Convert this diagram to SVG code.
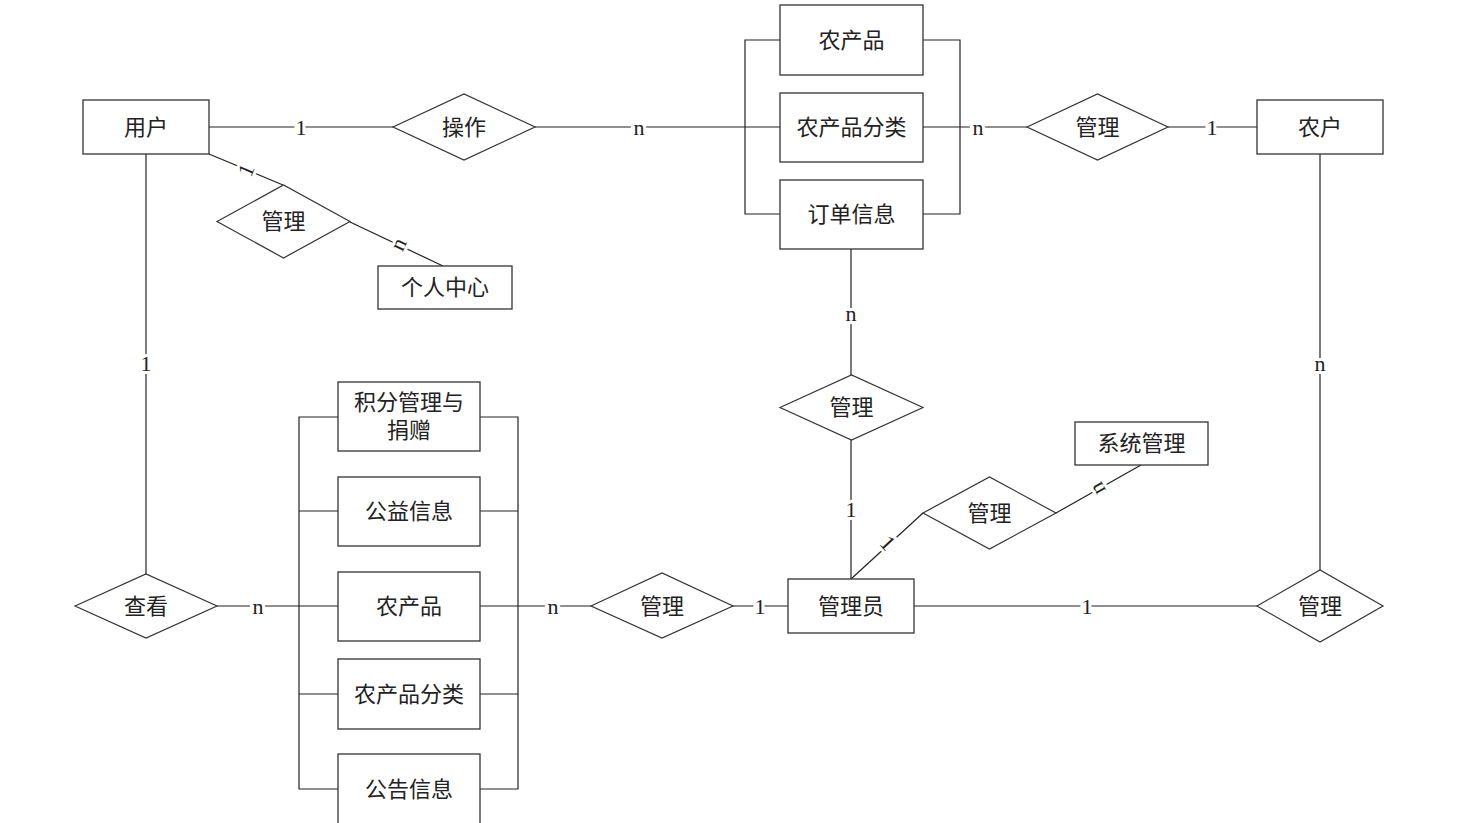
<svg xmlns="http://www.w3.org/2000/svg" width="1457" height="823" viewBox="0 0 1457 823">
<style>
.box{fill:#fff;stroke:#333;stroke-width:1.3}
.dia{fill:#fff;stroke:#333;stroke-width:1.2}
.ln{fill:none;stroke:#222;stroke-width:1.2}
.t{font-family:"Liberation Serif","Noto Sans CJK SC",serif;font-size:22px;fill:#222;text-anchor:middle;dominant-baseline:central}
.lb{font-family:"Liberation Serif",serif;font-size:22px;fill:#222;text-anchor:middle;dominant-baseline:central;stroke:#fff;stroke-width:6;paint-order:stroke}
</style>
<rect width="1457" height="823" fill="#fff"/>
<g id="connectors">
<line class="ln" x1="209" y1="127" x2="393" y2="127"/>
<line class="ln" x1="535" y1="127" x2="780" y2="127"/>
<polyline class="ln" points="780,40 745,40 745,214 780,214"/>
<polyline class="ln" points="923,40 960,40 960,214 923,214"/>
<line class="ln" x1="923" y1="127" x2="1027" y2="127"/>
<line class="ln" x1="1168" y1="127" x2="1257" y2="127"/>
<line class="ln" x1="209" y1="154" x2="283" y2="185"/>
<line class="ln" x1="350" y1="222" x2="443" y2="266"/>
<line class="ln" x1="146" y1="154" x2="146" y2="574"/>
<line class="ln" x1="1320" y1="154" x2="1320" y2="570"/>
<line class="ln" x1="851" y1="249" x2="851" y2="375"/>
<line class="ln" x1="851" y1="440" x2="851" y2="579"/>
<line class="ln" x1="851" y1="579" x2="923" y2="513"/>
<line class="ln" x1="1056" y1="513" x2="1141" y2="465"/>
<line class="ln" x1="914" y1="606" x2="1257" y2="606"/>
<line class="ln" x1="733" y1="606" x2="788" y2="606"/>
<line class="ln" x1="217" y1="606" x2="338" y2="606"/>
<line class="ln" x1="480" y1="606" x2="591" y2="606"/>
<polyline class="ln" points="338,417 299,417 299,789 338,789"/>
<polyline class="ln" points="480,417 518,417 518,789 480,789"/>
<line class="ln" x1="299" y1="511" x2="338" y2="511"/>
<line class="ln" x1="299" y1="694" x2="338" y2="694"/>
<line class="ln" x1="480" y1="511" x2="518" y2="511"/>
<line class="ln" x1="480" y1="694" x2="518" y2="694"/>
<text class="lb" x="301" y="127">1</text>
<text class="lb" x="639" y="127">n</text>
<text class="lb" x="978" y="127">n</text>
<text class="lb" x="1212" y="127">1</text>
<text class="lb" transform="translate(246,170) rotate(-67)">1</text>
<text class="lb" transform="translate(398,244) rotate(-65)">n</text>
<text class="lb" x="146" y="363">1</text>
<text class="lb" x="1320" y="363">n</text>
<text class="lb" x="851" y="313">n</text>
<text class="lb" x="851" y="509">1</text>
<text class="lb" transform="translate(888,543) rotate(47.5)">1</text>
<text class="lb" transform="translate(1097,489) rotate(-119)">n</text>
<text class="lb" x="1087" y="606">1</text>
<text class="lb" x="760" y="606">1</text>
<text class="lb" x="258" y="606">n</text>
<text class="lb" x="553" y="606">n</text>
</g>
<g id="user"><rect class="box" x="83" y="100" width="126" height="54"/><text class="t" x="146" y="127">用户</text></g>
<g id="operate"><polygon class="dia" points="393,127 464,94 535,127 464,160"/><text class="t" x="464" y="127">操作</text></g>
<g id="manage-user"><polygon class="dia" points="217,221.5 283.5,185 350,221.5 283.5,258"/><text class="t" x="283.5" y="221.5">管理</text></g>
<g id="personal-center"><rect class="box" x="378" y="266" width="134" height="43"/><text class="t" x="445" y="287.5">个人中心</text></g>
<g id="product-top"><rect class="box" x="780" y="5" width="143" height="70"/><text class="t" x="851.5" y="40">农产品</text></g>
<g id="category-top"><rect class="box" x="780" y="93" width="143" height="69"/><text class="t" x="851.5" y="127">农产品分类</text></g>
<g id="order"><rect class="box" x="780" y="180" width="143" height="69"/><text class="t" x="851.5" y="214">订单信息</text></g>
<g id="manage-farmer"><polygon class="dia" points="1027,127 1097.5,94 1168,127 1097.5,160"/><text class="t" x="1097.5" y="127">管理</text></g>
<g id="farmer"><rect class="box" x="1257" y="100" width="126" height="54"/><text class="t" x="1320" y="127">农户</text></g>
<g id="manage-order"><polygon class="dia" points="780,407.5 851.5,375 923,407.5 851.5,440"/><text class="t" x="851.5" y="407.5">管理</text></g>
<g id="manage-system"><polygon class="dia" points="923,513 989.5,477 1056,513 989.5,549"/><text class="t" x="989.5" y="513">管理</text></g>
<g id="system"><rect class="box" x="1075" y="422" width="133" height="43"/><text class="t" x="1141.5" y="443.5">系统管理</text></g>
<g id="admin"><rect class="box" x="788" y="579" width="126" height="54"/><text class="t" x="851" y="606">管理员</text></g>
<g id="manage-admin-farmer"><polygon class="dia" points="1257,606 1320,570 1383,606 1320,642"/><text class="t" x="1320" y="606">管理</text></g>
<g id="manage-admin"><polygon class="dia" points="591,606 662,573 733,606 662,638"/><text class="t" x="662" y="606">管理</text></g>
<g id="view"><polygon class="dia" points="75,606 146,574 217,606 146,638"/><text class="t" x="146" y="606">查看</text></g>
<g id="points"><rect class="box" x="338" y="382" width="142" height="69"/><text class="t" x="409" y="402">积分管理与</text><text class="t" x="409" y="430">捐赠</text></g>
<g id="charity"><rect class="box" x="338" y="477" width="142" height="69"/><text class="t" x="409" y="511">公益信息</text></g>
<g id="product-bottom"><rect class="box" x="338" y="572" width="142" height="69"/><text class="t" x="409" y="606">农产品</text></g>
<g id="category-bottom"><rect class="box" x="338" y="659" width="142" height="70"/><text class="t" x="409" y="694">农产品分类</text></g>
<g id="notice"><rect class="box" x="338" y="754" width="142" height="72"/><text class="t" x="409" y="789">公告信息</text></g>
</svg>
